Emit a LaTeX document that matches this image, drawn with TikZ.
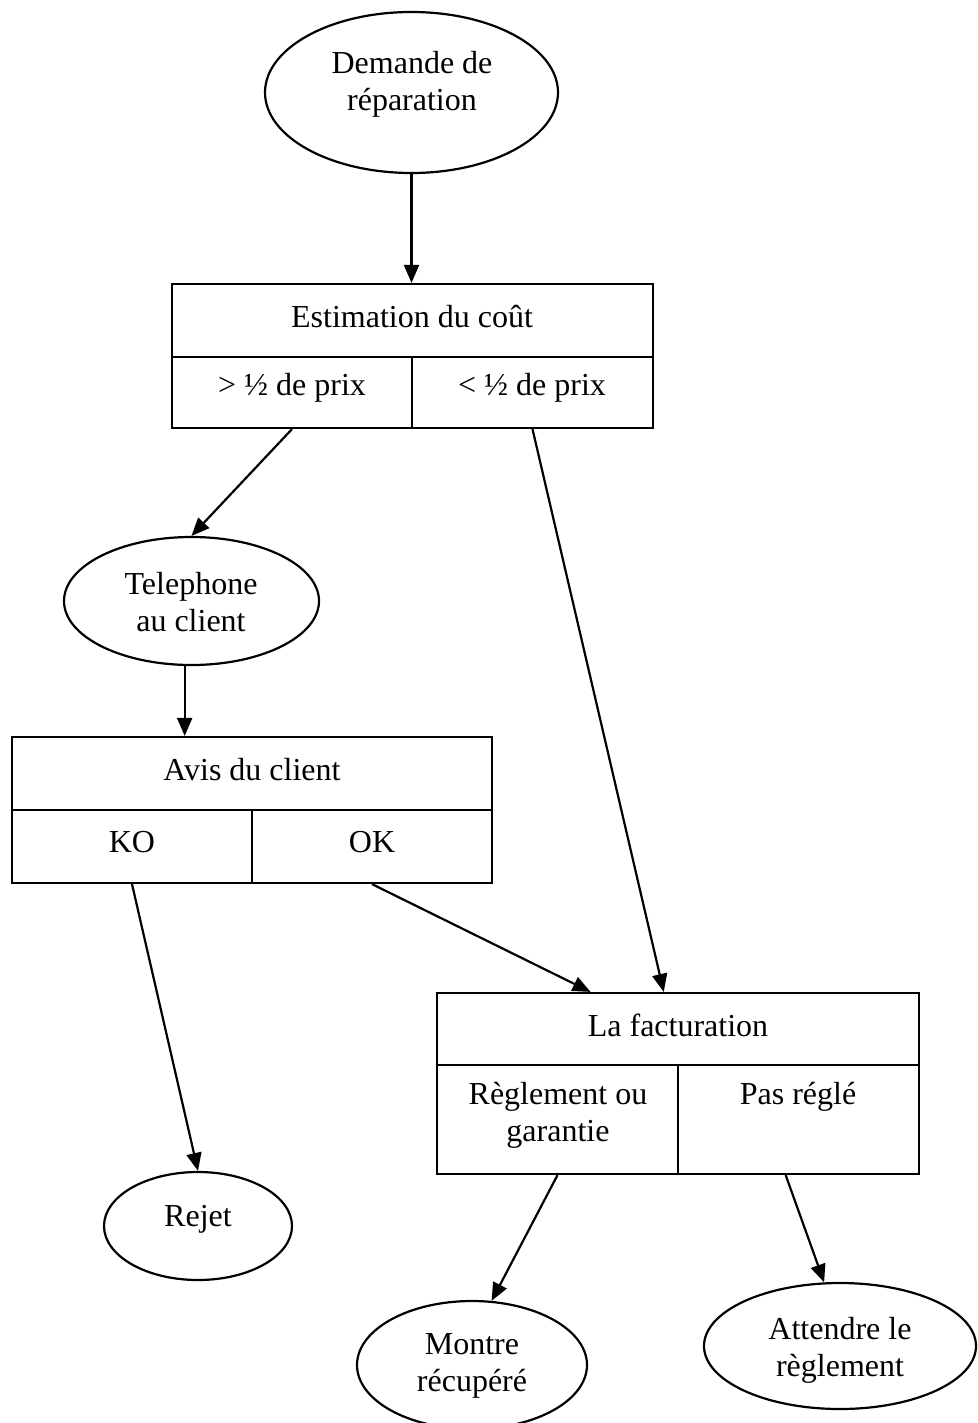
\documentclass[tikz,border=0pt]{standalone}
\usepackage{fontspec}
\setmainfont{Liberation Serif}
\usetikzlibrary{arrows.meta,shapes.geometric}
\begin{document}
\begin{tikzpicture}[x=1pt,y=-1pt,
  lw/.style={line width=2.2pt},
  oval/.style={ellipse,draw,lw,inner sep=0pt},
  cell/.style={rectangle,draw,lw,inner sep=0pt},
  txt/.style={align=center,inner sep=0pt,font=\fontsize{32}{37}\selectfont},
  flow/.style={lw,-{Triangle[length=18pt,width=15pt]}}]
\useasboundingbox (0,0) rectangle (977,1423);

% Start
\node[oval,minimum width=293pt,minimum height=161pt] (dem) at (411.5,92.5) {};
\node[txt] (demT) at (412,84) {Demande de\\réparation};

% Cost estimate
\node[cell,minimum width=481pt,minimum height=73pt] (estH) at (412.5,320.5) {};
\node[cell,minimum width=240pt,minimum height=71pt] (estL) at (292,392.5) {};
\node[cell,minimum width=241pt,minimum height=71pt] (estR) at (532.5,392.5) {};
\node[txt] (estHT) at (412,317) {Estimation du coût};
\node[txt] (estLT) at (292,388) {> ½ de prix};
\node[txt] (estRT) at (532,388) {< ½ de prix};

% Phone call
\node[oval,minimum width=255pt,minimum height=128pt] (tel) at (191.5,601) {};
\node[txt] (telT) at (191,602) {Telephone\\au client};

% Customer decision
\node[cell,minimum width=480pt,minimum height=73pt] (avH) at (252,773.5) {};
\node[cell,minimum width=240pt,minimum height=73pt] (avL) at (132,846.5) {};
\node[cell,minimum width=240pt,minimum height=73pt] (avR) at (372,846.5) {};
\node[txt] (avHT) at (252,770) {Avis du client};
\node[txt] (avLT) at (132,842) {KO};
\node[txt] (avRT) at (372,842) {OK};

% Rejected
\node[oval,minimum width=188pt,minimum height=108pt] (rej) at (198,1226) {};
\node[txt] (rejT) at (198,1219) {Rejet};

% Invoicing
\node[cell,minimum width=482pt,minimum height=72pt] (fH) at (678,1029) {};
\node[cell,minimum width=241pt,minimum height=109pt] (fL) at (557.5,1119.5) {};
\node[cell,minimum width=241pt,minimum height=109pt] (fR) at (798.5,1119.5) {};
\node[txt] (fHT) at (678,1025) {La facturation};
\node[txt] (fLT) at (558,1115) {Règlement ou\\garantie};
\node[txt] (fRT) at (798,1097) {Pas réglé};

% Outcomes
\node[oval,minimum width=230pt,minimum height=128pt] (mon) at (472,1365) {};
\node[txt] (monT) at (472,1366) {Montre\\récupéré};
\node[oval,minimum width=272pt,minimum height=126pt] (att) at (840,1346) {};
\node[txt] (attT) at (840,1350) {Attendre le\\règlement};

% Connectors
\draw[flow] (dem.south) -- (dem.south |- estH.north);
\draw[flow] (estL.south) -- (tel.north);
\draw[flow] (tel.264) -- (tel.264 |- avH.north);
\draw[flow] (avL.south) -- (rej.north);
\draw[flow] (avR.south) -- (fH.157.75);
\draw[flow] (estR.south) -- (fH.111);
\draw[flow] (fL.south) -- (mon.73);
\draw[flow] (fR.257) -- (att.104);
\end{tikzpicture}
\end{document}
